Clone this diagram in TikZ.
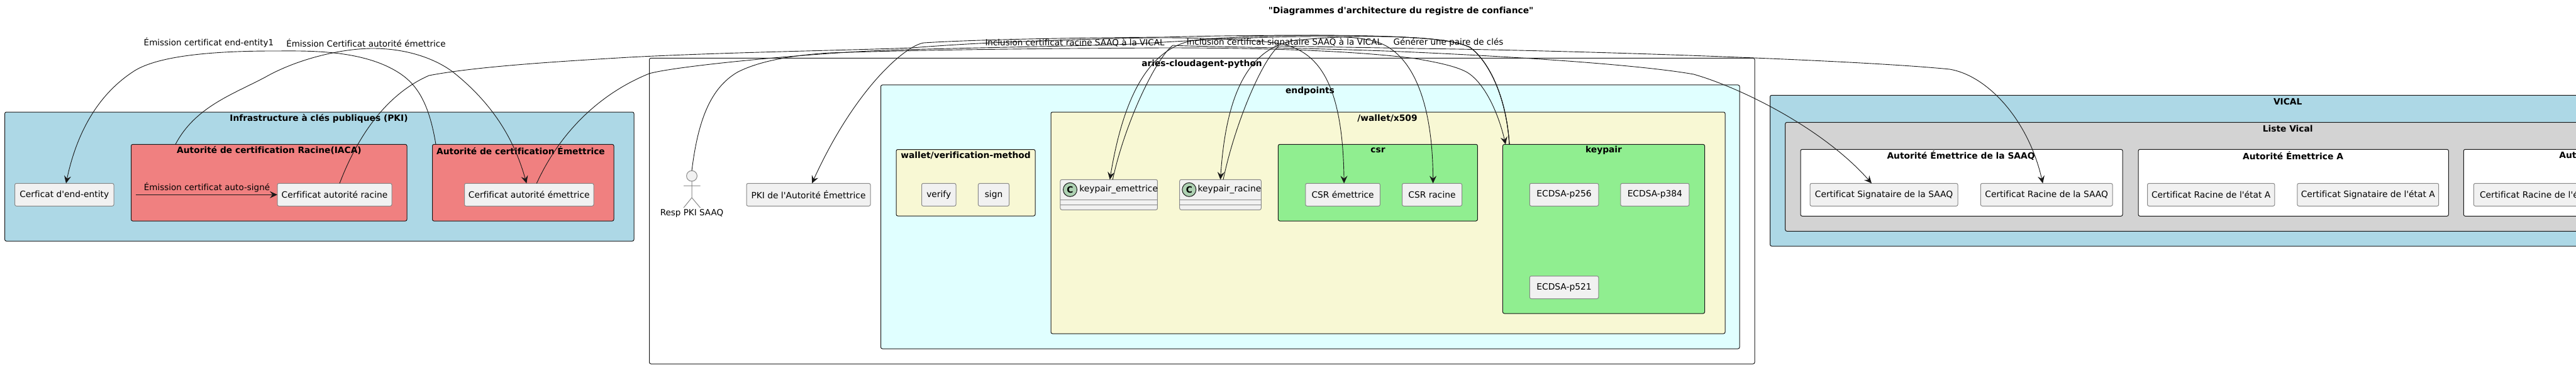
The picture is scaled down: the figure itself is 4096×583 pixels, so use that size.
\documentclass[tikz,border=0pt]{standalone}
\usepackage{fontspec}
\usetikzlibrary{arrows.meta}
\newfontfamily\dejavu{DejaVu Sans}[Ligatures={NoCommon}]
\newcommand{\leaffont}{\dejavu\fontsize{6.9}{8}\selectfont}
\newcommand{\grpfont}{\dejavu\bfseries\fontsize{6.9}{8}\selectfont}
\newcommand{\lblfont}{\dejavu\fontsize{6.75}{8}\selectfont}
\definecolor{trait}{HTML}{181818}
\definecolor{bord}{HTML}{888888}
\definecolor{fond}{HTML}{F1F1F1}
\definecolor{bleu}{HTML}{ADD8E6}
\definecolor{corail}{HTML}{F08080}
\definecolor{cyan2}{HTML}{E0FFFF}
\definecolor{jaune}{HTML}{F8F8D4}
\definecolor{vert}{HTML}{90EE90}
\definecolor{gris}{HTML}{D3D3D3}
\definecolor{classe}{HTML}{ADD1B2}
\begin{document}
\begin{tikzpicture}[x=.5pt, y=-.5pt,
	grp/.style={draw=trait, line width=.5pt, rounded corners=1.25pt, inner sep=0pt, outer sep=0pt},
	leaf/.style={draw=bord, fill=fond, line width=.5pt, rounded corners=1.25pt, inner sep=0pt, outer sep=0pt, minimum height=18pt, font=\leaffont},
	cls/.style={leaf, minimum height=24pt},
	sepl/.style={draw=bord, line width=.5pt},
	circ/.style={circle, draw=trait, fill=classe, line width=.5pt, inner sep=0pt, minimum size=11pt, font=\grpfont},
	gt/.style={font=\grpfont, inner sep=0pt},
	lbl/.style={font=\lblfont, inner sep=0pt},
	fl/.style={draw=trait, line width=.45pt, -{Stealth[length=6pt, width=5.5pt, inset=2.2pt]}},
	nf/.style={draw=trait, line width=.5pt}]
	\useasboundingbox (0,0) rectangle (4096,583);
	\clip (0,0) rectangle (4096,583);

	\node[grp, fill=bleu, minimum width=500.2pt, minimum height=102.5pt] (pki) at (507.8,280.5) {};
	\node[grp, fill=corail, minimum width=219.25pt, minimum height=60.85pt] (iaca) at (427.75,290.2) {};
	\node[grp, fill=corail, minimum width=144.25pt, minimum height=60.85pt] (eme) at (831.75,290.2) {};
	\node[grp, fill=white, minimum width=878.75pt, minimum height=242.85pt] (aries) at (1911.25,335.15) {};
	\node[grp, fill=cyan2, minimum width=682.75pt, minimum height=209.5pt] (endp) at (2083.25,344.5) {};
	\node[grp, fill=jaune, minimum width=536pt, minimum height=176pt] (x509) at (2207,354) {};
	\node[grp, fill=jaune, minimum width=110.5pt, minimum height=52.75pt] (wvm) at (1535.5,290.25) {};
	\node[grp, fill=vert, minimum width=158.5pt, minimum height=60.85pt] (csr) at (2190.9,290.15) {};
	\node[grp, fill=vert, minimum width=160.55pt, minimum height=134.3pt] (kp) at (2550,363.7) {};
	\node[grp, fill=bleu, minimum width=823.25pt, minimum height=119.85pt] (vical) at (3637.75,271.15) {};
	\node[grp, fill=gris, minimum width=799pt, minimum height=86.5pt] (liste) at (3637.7,280.8) {};
	\node[grp, fill=white, minimum width=256pt, minimum height=53pt] (saaq) at (3119,290.3) {};
	\node[grp, fill=white, minimum width=246.65pt, minimum height=53pt] (etatA) at (3646.65,290.3) {};
	\node[grp, fill=white, minimum width=246.35pt, minimum height=53pt] (etatB) at (4163.65,290.3) {};

	\node[gt] (titre) at (2227.6,18) {"Diagrammes d'architecture du registre de confiance"};
	\node[gt] (pkiT) at (507,188) {Infrastructure à clés publiques (PKI)};
	\node[gt] (iacaT) at (428,239) {Autorité de certification Racine(IACA)};
	\node[gt] (emeT) at (828,239) {Autorité de certification Émettrice};
	\node[gt] (ariesT) at (1911,102) {aries-cloudagent-python};
	\node[gt] (endpT) at (2083,145) {endpoints};
	\node[gt] (x509T) at (2206,188) {/wallet/x509};
	\node[gt] (wvmT) at (1535.5,247) {wallet/verification-method};
	\node[gt] (csrT) at (2191,239) {csr};
	\node[gt] (kpT) at (2550,239) {keypair};
	\node[gt] (vicalT) at (3637.7,161) {VICAL};
	\node[gt] (listeT) at (3637.7,204) {Liste Vical};
	\node[gt] (saaqT) at (3118,247) {Autorité Émettrice de la SAAQ};
	\node[gt] (etatAT) at (3646,247) {Autorité Émettrice A};
	\node[gt, anchor=west] (etatBT) at (4069,247) {Aut};

	\node[leaf, minimum width=78.7pt] (ee) at (102.3,309.3) {Cerficat d'end-entity};
	\node[leaf, minimum width=91pt] (cr) at (532,309.3) {Cerfificat autorité racine};
	\node[leaf, minimum width=102.75pt] (ce) at (841.25,309.3) {Cerfificat autorité émettrice};
	\node[leaf, minimum width=98.5pt] (pkiE) at (1285.5,309.3) {PKI de l'Autorité Émettrice};
	\node[leaf, minimum width=27.25pt] (verify) at (1492.75,309.3) {verify};
	\node[leaf, minimum width=24.55pt] (sign) at (1580,309.3) {sign};
	\node[leaf, minimum width=59.3pt] (csrE) at (2135.1,309.3) {CSR émettrice};
	\node[leaf, minimum width=47.5pt] (csrR) at (2277,309.3) {CSR racine};
	\node[leaf, minimum width=54.75pt] (p256) at (2487,309.3) {ECDSA-p256};
	\node[leaf, minimum width=54.55pt] (p384) at (2631.35,309.3) {ECDSA-p384};
	\node[leaf, minimum width=54.75pt] (p521) at (2487,456.5) {ECDSA-p521};
	\node[leaf, minimum width=117.5pt] (sig) at (2995.5,309.3) {Certificat Signataire de la SAAQ};
	\node[leaf, minimum width=104.85pt] (rac) at (3254.15,309.3) {Certificat Racine de la SAAQ};
	\node[leaf, minimum width=101.15pt] (rA) at (3515.65,309.3) {Certificat Racine de l'état A};
	\node[leaf, minimum width=112.45pt] (sA) at (3765.25,309.3) {Certificat Signataire de l'état A};
	\node[leaf, anchor=west, text width=100pt, align=left, inner xsep=4.85pt] (rB) at (3933.3,309.3) {Certificat Racine de l'é};

	\node[cls, minimum width=77.25pt] (kpE) at (1763.2,309.3) {};
	\node[cls, minimum width=64.8pt] (kpR) at (1940.5,309.3) {};
	\node[circ] (kpEc) at (1701.5,301.3) {C};
	\node[circ] (kpRc) at (1890.8,301.3) {C};
	\node[font=\leaffont, inner sep=0pt, anchor=west] (kpEt) at (1716,301.3) {keypair\_emettrice};
	\node[font=\leaffont, inner sep=0pt, anchor=west] (kpRt) at (1904.3,301.3) {keypair\_racine};
	\draw[sepl] ([yshift=-4pt]kpE.west) -- ([yshift=-4pt]kpE.east);
	\draw[sepl] ([yshift=-8pt]kpE.west) -- ([yshift=-8pt]kpE.east);
	\draw[sepl] ([yshift=-4pt]kpR.west) -- ([yshift=-4pt]kpR.east);
	\draw[sepl] ([yshift=-8pt]kpR.west) -- ([yshift=-8pt]kpR.east);

	\node[circle, draw=bord, fill=fond, line width=.5pt, inner sep=0pt, outer sep=0pt, minimum size=8.4pt] (resp) at (1100,279.5) {};
	\draw[draw=bord, line width=.5pt] (resp.south) -- (1100,314) -- (1087,330) (1100,314) -- (1113.5,330) (1087,295) -- (1113.5,295);
	\node[font=\lblfont, inner sep=0pt] (respT) at (1100,339) {Resp PKI SAAQ};

	\coordinate (auto) at (216,309.3);
	\draw[fl] (auto) -- (cr.west);
	\draw[fl] ([xshift=2.75pt]eme.north west) .. controls (680,150) and (655,125) .. (619,107) .. controls (560,78) and (480,81) .. (434,81) .. controls (330,81) and (245,90) .. (210,115) .. controls (150,155) and (120,220) .. ([xshift=1.35pt]ee.north);
	\draw[fl] ([xshift=35.25pt]iaca.north west) .. controls (310,170) and (370,150) .. (421,123) .. controls (470,95) and (540,77) .. (593,77) .. controls (650,77) and (695,95) .. (721,115) .. controls (790,170) and (820,230) .. ([xshift=-2pt]ce.north);
	\draw[fl] ([xshift=4pt]cr.north) .. controls (575,200) and (625,145) .. (682,120) .. controls (760,105) and (900,97) .. (1000,91) .. controls (1150,83) and (1350,80) .. (1450,76) .. controls (1500,72) and (1550,69) .. (1600,67) .. controls (1700,63) and (1800,60) .. (1850,60) .. controls (1900,60) and (1970,62) .. (2017,67) .. controls (2090,72) and (2135,120) .. ([xshift=1pt]csrE.north);
	\draw[fl] ([xshift=6pt]ce.north) .. controls (900,190) and (975,140) .. (1032,117) .. controls (1070,106) and (1250,88) .. (1383,81) .. controls (1500,76) and (1700,74) .. (1800,70) .. controls (1900,64) and (2000,58) .. (2100,58) .. controls (2140,58) and (2170,60) .. (2193,68) .. controls (2240,85) and (2278,150) .. ([xshift=.8pt]csrR.north);
	\draw[fl] (resp.north) .. controls (1110,190) and (1130,140) .. (1172,115) .. controls (1210,95) and (1270,87) .. (1319,84) .. controls (1500,78) and (1700,77) .. (1850,76) .. controls (2000,76) and (2150,80) .. (2250,93) .. controls (2285,99) and (2315,105) .. (2333,115) .. controls (2365,135) and (2385,190) .. ([xshift=2.25pt]kp.north west);
	\draw[fl] ([xshift=5.25pt]kp.north west) .. controls (2395,150) and (2365,95) .. (2337,75) .. controls (2315,65) and (2280,62) .. (2250,60) .. controls (2150,54) and (1950,56) .. (1850,59) .. controls (1700,60) and (1550,63) .. (1469,68) .. controls (1440,72) and (1360,140) .. ([xshift=2.75pt]pkiE.north);
	\draw[fl] ([xshift=5.25pt]kp.north west) .. controls (2395,150) and (2365,95) .. (2337,75) .. controls (2315,65) and (2280,62) .. (2250,60) .. controls (2150,54) and (2000,55) .. (1906,63) .. controls (1840,70) and (1790,130) .. ([xshift=.75pt]kpE.north);
	\draw[fl] ([xshift=5.25pt]kp.north west) .. controls (2395,150) and (2365,95) .. (2337,75) .. controls (2315,65) and (2280,62) .. (2250,60) .. controls (2180,56) and (2120,58) .. (2060,64) .. controls (1990,75) and (1950,140) .. (kpR.north);
	\draw[fl] ([xshift=3pt]kpE.north) .. controls (1790,190) and (1840,90) .. (1865,72) .. controls (1890,74) and (2100,76) .. (2250,83) .. controls (2450,92) and (2620,105) .. (2693,118) .. controls (2770,140) and (2900,205) .. ([xshift=-9.75pt]sig.north);
	\draw[fl] ([xshift=2.25pt]kpR.north) .. controls (1965,190) and (2010,90) .. (2034,73) .. controls (2060,74) and (2150,75) .. (2250,77) .. controls (2500,80) and (2950,95) .. (3100,110) .. controls (3160,120) and (3225,190) .. ([xshift=-3pt]rac.north);

	\node[lbl] (l1) at (329,298) {Émission certificat auto-signé};
	\node[lbl] (l2) at (332,68) {Émission certificat end-entity1};
	\node[lbl] (l3) at (582,68) {Émission Certificat autorité émettrice};
	\node[lbl] (l4) at (1709,68) {Inclusion certificat racine SAAQ à la VICAL};
	\node[lbl] (l5) at (2042,68) {Inclusion certificat signataire SAAQ à la VICAL};
	\node[lbl] (l6) at (2303,68) {Générer une paire de clés};
\end{tikzpicture}
\end{document}
